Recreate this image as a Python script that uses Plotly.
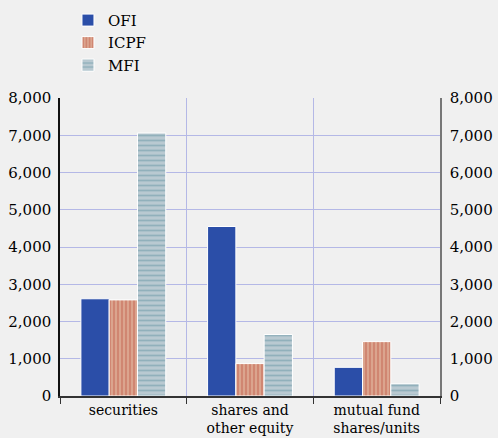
import plotly.graph_objects as go

categories = ["securities", "shares and<br>other equity", "mutual fund<br>shares/units"]
ofi = [2610, 4550, 770]
icpf = [2580, 870, 1460]
mfi = [7060, 1650, 330]
tick_vals = [0, 1000, 2000, 3000, 4000, 5000, 6000, 7000, 8000]
tick_text = ["0", "1,000", "2,000", "3,000", "4,000", "5,000", "6,000", "7,000", "8,000"]

bg = "#f0f0f0"
grid = "#b4b8e6"
fam = "DejaVu Serif"
font = dict(family=fam, size=15, color="#000")
xfont = dict(family=fam, size=14, color="#000")

fig = go.Figure()
fig.add_trace(go.Bar(name="OFI", x=categories, y=ofi,
                     marker=dict(color="#2b4ea8", line=dict(color="white", width=1))))
fig.add_trace(go.Bar(name="ICPF", x=categories, y=icpf,
                     marker=dict(color="#dba48e", line=dict(color="white", width=1),
                                 pattern=dict(shape="|", fgcolor="#b5402c", bgcolor="#dba48e",
                                              size=4, solidity=0.3))))
fig.add_trace(go.Bar(name="MFI", x=categories, y=mfi,
                     marker=dict(color="#b9c9d1", line=dict(color="white", width=1),
                                 pattern=dict(shape="-", fgcolor="#6a97a6", bgcolor="#b9c9d1",
                                              size=5, solidity=0.35))))
fig.add_trace(go.Scatter(x=[categories[0]], y=[None], yaxis="y2", showlegend=False,
                         hoverinfo="skip", mode="markers"))

fig.update_layout(
    width=498, height=438,
    paper_bgcolor=bg, plot_bgcolor=bg,
    font=font,
    barmode="group", bargap=0.33, bargroupgap=0,
    margin=dict(l=60, r=58, t=98, b=42, autoexpand=False),
    legend=dict(x=0.021, y=1.316, xanchor="left", yanchor="top",
                bgcolor="rgba(0,0,0,0)", font=dict(family=fam, size=15),
                tracegroupgap=0, itemwidth=30),
    xaxis=dict(showgrid=True, gridcolor=grid, gridwidth=1, tickson="boundaries",
               ticks="outside", ticklen=6, tickcolor="#333", showline=True,
               linecolor="#333", linewidth=1.5, tickfont=xfont, automargin=False),
    yaxis=dict(range=[0, 8000], tickvals=tick_vals, ticktext=tick_text,
               showgrid=True, gridcolor=grid, gridwidth=1, zeroline=False,
               showline=True, linecolor="#111", linewidth=1.5, ticks="",
               tickfont=font, ticklabelstandoff=4, automargin=False),
    yaxis2=dict(range=[0, 8000], tickvals=tick_vals, ticktext=tick_text,
                overlaying="y", side="right", showgrid=False, zeroline=False,
                showline=True, linecolor="#777", linewidth=1.5, ticks="",
                tickfont=font, ticklabelstandoff=5, automargin=False),
)

fig.write_html("out.html", config={"displayModeBar": False},
               post_script="document.body.style.margin='0';document.body.style.overflow='hidden';")
